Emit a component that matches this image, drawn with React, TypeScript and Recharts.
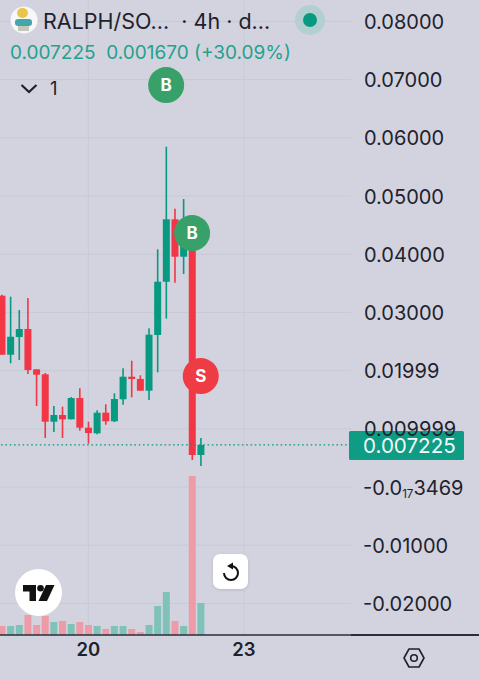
import React from "react";
import { ComposedChart, Bar, XAxis, YAxis, CartesianGrid, ReferenceLine, ReferenceDot, Cell } from "recharts";

const W = 479, H = 680;
const BG = "#D2D3DF", GRID = "#C9CAD6", UP = "#089981", DOWN = "#F23645";
const VOL_UP = "#7FC3B8", VOL_DOWN = "#EE9BA8";
const TEXT = "#1E222D";
const FONT = "Inter, 'Noto Sans', sans-serif";

const opens = [0.03287,0.02273,0.02577,0.02715,0.02022,0.01936,0.01122,0.01237,0.01163,0.01529,0.01019,0.00923,0.01277,0.01129,0.01507,0.01895,0.01856,0.01655,0.02612,0.03527,0.046,0.03957,0.04158,0.0055];
const closes = [0.02273,0.02582,0.02715,0.0201,0.0193,0.01122,0.01237,0.01163,0.01529,0.01019,0.00928,0.01277,0.01129,0.01512,0.01895,0.01856,0.01655,0.02617,0.03527,0.046,0.03957,0.04158,0.0055,0.007225];
const highs = [0.03304,0.0327,0.03041,0.03247,0.02027,0.01959,0.01392,0.0138,0.01546,0.01696,0.01122,0.01318,0.01421,0.0161,0.0204,0.0217,0.01919,0.02727,0.04084,0.05847,0.04782,0.04948,0.04158,0.00842];
const lows = [0.02273,0.02125,0.02182,0.01942,0.01392,0.00842,0.00945,0.00842,0.01163,0.00967,0.00744,0.00905,0.0107,0.01117,0.01414,0.01541,0.01655,0.01495,0.01971,0.02892,0.0351,0.0366,0.00464,0.00361];
const volumes = [9,9,10,20,10,19,13,14,11,13,10,9,6,9,9,6,3,10,29,43,14,9,159,32];

const priceTicks = [0.08,0.07,0.06,0.05,0.04,0.03,0.01999,0.00999,0,-0.01,-0.02];
const priceLabels = ["0.08000","0.07000","0.06000","0.05000","0.04000","0.03000","0.01999","0.009999","","-0.01000","-0.02000"];
const dayTicks = [10,28];
const dayLabels = ["20","23"];
const lastPrice = 0.007225;
const trades = [
  { i: 19, price: 0.06907, kind: "B" },
  { i: 22, price: 0.04364, kind: "B" },
  { i: 23, price: 0.01907, kind: "S" },
];

const data = opens.map((o, i) => ({ i, open: o, close: closes[i], high: highs[i], low: lows[i], range: [lows[i], highs[i]], vol: volumes[i] }));

function Candle(props: any) {
  const { x, y, width, height, payload } = props;
  const { open, close, high, low } = payload;
  const cx = x + width / 2;
  const py = (v: number) => y + ((high - v) / (high - low || 1)) * height;
  const top = py(Math.max(open, close));
  const bot = py(Math.min(open, close));
  const c = close >= open ? UP : DOWN;
  return (
    <g>
      <rect x={cx - 0.8} y={y} width={1.6} height={height} fill={c} />
      <rect x={x} y={top} width={width} height={Math.max(bot - top, 1)} fill={c} />
    </g>
  );
}

function PriceTick(props: any) {
  const { y, payload } = props;
  const idx = priceTicks.indexOf(payload.value);
  const common = { y: y + 7.5, fontFamily: FONT, fontSize: 20, fill: TEXT };
  if (payload.value === 0) {
    return (
      <text {...common} x={363}>-0.0<tspan fontSize={11.5} dy={3}>17</tspan><tspan dy={-3}>3469</tspan></text>
    );
  }
  return <text {...common} x={payload.value < 0 ? 363 : 364}>{priceLabels[idx]}</text>;
}

function DayTick(props: any) {
  const { x, y, payload } = props;
  return (
    <text x={x} y={y + 13} textAnchor="middle" fontFamily={FONT} fontWeight={600} fontSize={18.5} fill={TEXT}>
      {dayLabels[dayTicks.indexOf(payload.value)]}
    </text>
  );
}

function Marker(props: any) {
  const { cx, cy, kind } = props;
  return (
    <g>
      <circle cx={cx} cy={cy} r={18} fill={kind === "B" ? "#38A169" : "#EE3B44"} />
      <text x={cx} y={cy + 6} textAnchor="middle" fontFamily={FONT} fontWeight={700} fontSize={17} fill="#fff">{kind}</text>
    </g>
  );
}

function PriceTag(props: any) {
  const y = props.viewBox.y;
  return (
    <g>
      <rect x={349} y={y - 14} width={115} height={29} rx={1.5} fill="#0E9C84" />
      <text x={363} y={y + 8} fontFamily={FONT} fontSize={20.6} fill="#F4FBFA">{lastPrice.toFixed(6)}</text>
    </g>
  );
}

export default function App() {
  return (
    <div style={{ position: "absolute", left: 0, top: 0, width: W, height: H, background: BG, overflow: "hidden", fontFamily: FONT }}>
      <ComposedChart width={W} height={H} data={data} margin={{ top: 0, right: 0, bottom: 0, left: 0 }} style={{ position: "absolute", left: 0, top: 0 }}>
        <CartesianGrid xAxisId="p" yAxisId="p" stroke={GRID} strokeWidth={1} horizontalValues={priceTicks} verticalValues={dayTicks} />
        <XAxis xAxisId="p" dataKey="i" type="number" domain={[-0.208, 40.37]} allowDataOverflow ticks={dayTicks} height={45} tick={<DayTick />} tickLine={false} axisLine={{ stroke: "#2A2E39", strokeWidth: 1.5 }} />
        <XAxis xAxisId="v" dataKey="i" type="number" domain={[-0.208, 40.37]} allowDataOverflow hide />
        <YAxis yAxisId="p" orientation="right" width={128} type="number" domain={[-0.02543, 0.08368]} allowDataOverflow ticks={priceTicks} interval={0} tick={<PriceTick />} tickLine={false} axisLine={false} />
        <YAxis yAxisId="v" hide type="number" domain={[0, 635]} allowDataOverflow />
        <Bar xAxisId="v" yAxisId="v" dataKey="vol" barSize={7} isAnimationActive={false}>
          {data.map((d) => <Cell key={d.i} fill={d.close >= d.open ? VOL_UP : VOL_DOWN} />)}
        </Bar>
        <Bar xAxisId="p" yAxisId="p" dataKey="range" barSize={7} shape={<Candle />} isAnimationActive={false} />
        <ReferenceLine xAxisId="p" yAxisId="p" y={lastPrice} stroke={UP} strokeWidth={1.2} strokeDasharray="1.6 2.7" label={<PriceTag />} />
        {trades.map((t, k) => (
          <ReferenceDot key={k} xAxisId="p" yAxisId="p" x={t.i} y={t.price} r={18} shape={(p: any) => <Marker {...p} kind={t.kind} />} />
        ))}
      </ComposedChart>

      {/* bottom rule continues under the price scale */}
      <div style={{ position: "absolute", left: 351, top: 634.25, width: 128, height: 1.5, background: "#2A2E39" }} />

      {/* header */}
      <svg width={28} height={28} viewBox="0 0 28 28" style={{ position: "absolute", left: 10, top: 6 }}>
        <circle cx={14} cy={14} r={13.5} fill="#F7F7F7" />
        <ellipse cx={12.5} cy={7} rx={5.5} ry={5} fill="#E9C64A" />
        <rect x={5} y={13} width={17} height={7} rx={3} fill="#45A5A8" />
        <rect x={8} y={20} width={11} height={5} fill="#C4C7BC" />
      </svg>
      <div style={{ position: "absolute", left: 43, top: 8, fontSize: 21.5, color: TEXT, whiteSpace: "pre", lineHeight: "26px" }}>RALPH/SO...  · 4h · d...</div>
      <div style={{ position: "absolute", left: 295, top: 5, width: 30, height: 30, borderRadius: 15, background: "#B3CFD0" }} />
      <div style={{ position: "absolute", left: 303, top: 13, width: 14, height: 14, borderRadius: 7, background: UP }} />
      <div style={{ position: "absolute", left: 10, top: 42, fontSize: 19, color: "#1FA28E", whiteSpace: "pre", lineHeight: "22px" }}>0.007225  0.001670 (+30.09%)</div>
      <svg width={20} height={12} style={{ position: "absolute", left: 20, top: 83 }}>
        <path d="M1.5 2 L9 9 L16.5 2" fill="none" stroke={TEXT} strokeWidth={2.2} />
      </svg>
      <div style={{ position: "absolute", left: 50, top: 77, fontSize: 18.5, color: TEXT, lineHeight: "22px" }}>1</div>

      {/* logo */}
      <div style={{ position: "absolute", left: 15, top: 569, width: 47, height: 47, borderRadius: 24, background: "#fff" }} />
      <svg width={32} height={17} viewBox="0 0 32 17" style={{ position: "absolute", left: 23, top: 585 }}>
        <path d="M0 0 H13 V16 H6.5 V6.5 H0 Z" fill="#111" />
        <circle cx={17.5} cy={3.3} r={3.3} fill="#111" />
        <path d="M23 0 H31.5 L24 16 H15.5 Z" fill="#111" />
      </svg>

      {/* reset */}
      <div style={{ position: "absolute", left: 213, top: 554, width: 35, height: 35, borderRadius: 7, background: "#fff", boxShadow: "0 1px 3px rgba(0,0,0,0.12)" }} />
      <svg width={20} height={20} viewBox="0 0 20 20" style={{ position: "absolute", left: 221, top: 562 }}>
        <path d="M10 4 A7 7 0 1 1 3 11" fill="none" stroke="#111" strokeWidth={2} />
        <path d="M12 0.5 L12 7.5 L6 4 Z" fill="#111" />
      </svg>

      {/* settings */}
      <svg width={24} height={24} viewBox="0 0 24 24" style={{ position: "absolute", left: 402, top: 646 }}>
        <path d="M7 3 H17 L22 12 L17 21 H7 L2 12 Z" fill="none" stroke={TEXT} strokeWidth={1.6} strokeLinejoin="round" />
        <circle cx={12} cy={12} r={3.3} fill="none" stroke={TEXT} strokeWidth={1.6} />
      </svg>
    </div>
  );
}
